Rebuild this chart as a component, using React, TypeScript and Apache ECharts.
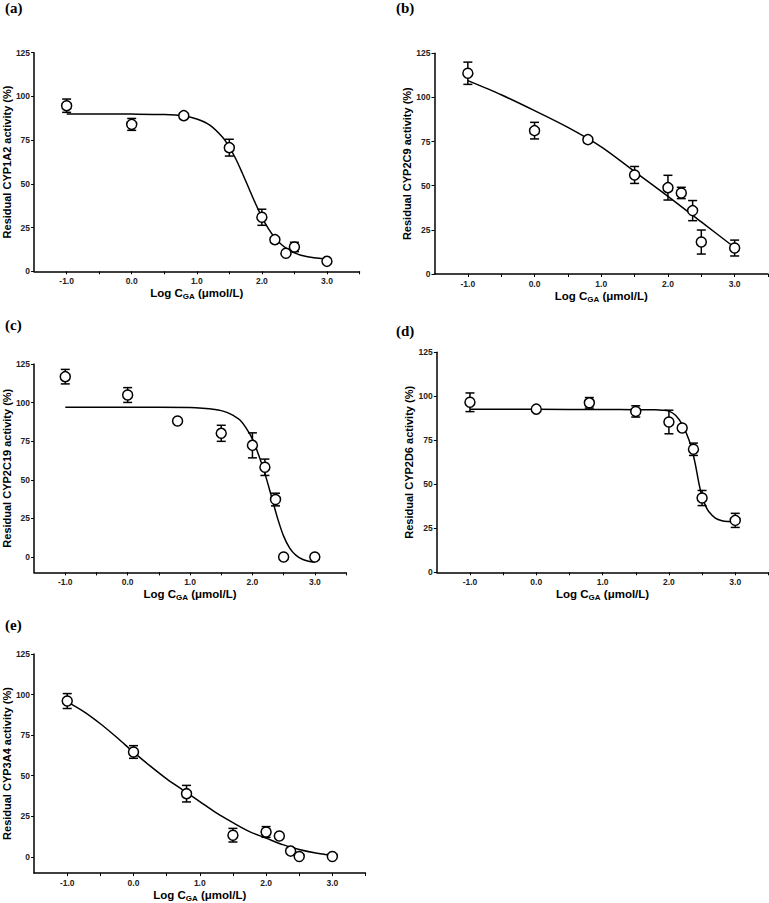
import React, { useEffect, useRef } from "react";
import * as echarts from "echarts";

// Log concentration of GA (µmol/L) at which each activity was measured
const logConc = [-1, 0, 0.8, 1.5, 2, 2.2, 2.37, 2.5, 3];

const panelLetters = ["(a)", "(b)", "(c)", "(d)", "(e)"];
const enzymes = ["CYP1A2", "CYP2C9", "CYP2C19", "CYP2D6", "CYP3A4"];

// Mean residual activity (%) and SD for each enzyme
const cyp1a2Mean = [94.7, 84.0, 89.0, 70.7, 30.9, 18.1, 10.3, 13.9, 5.7];
const cyp1a2Sd = [3.8, 3.4, 0, 4.8, 4.6, 0, 0, 2.7, 0];
const cyp2c9Mean = [113.7, 81.2, 76.1, 56.1, 48.9, 45.9, 35.9, 18.1, 14.7];
const cyp2c9Sd = [6.3, 4.7, 0, 4.8, 7.0, 3.2, 5.7, 6.8, 4.5];
const cyp2c19Mean = [116.8, 104.9, 88.1, 80.1, 72.3, 58.1, 37.2, 0, 0];
const cyp2c19Sd = [4.7, 4.8, 0, 5.2, 8.1, 5.3, 4.1, 0, 0];
const cyp2d6Mean = [96.6, 92.7, 96.3, 91.4, 85.4, 82.0, 69.9, 42.2, 29.5];
const cyp2d6Sd = [5.3, 0, 3.0, 3.2, 6.7, 0, 3.5, 4.3, 4.0];
const cyp3a4Mean = [96.0, 64.6, 38.9, 13.3, 15.3, 12.8, 3.5, 0.2, 0.2];
const cyp3a4Sd = [4.6, 3.9, 5.1, 4.2, 3.3, 0, 0, 0, 0];

// Fitted inhibition curves
const cyp1a2CurveX = [-1, -0.5, 0, 0.5, 0.8, 1, 1.2, 1.4, 1.5, 1.6, 1.7, 1.8, 1.9, 2, 2.1, 2.2, 2.3, 2.4, 2.5, 2.6, 2.8, 3];
const cyp1a2CurveY = [90, 90, 89.9, 89.6, 88.8, 87.1, 83.6, 76.5, 71, 64.2, 56.1, 47.5, 38.9, 31, 24.4, 19.2, 15.3, 12.5, 10.5, 9.2, 7.7, 7.0];
const cyp2c9CurveX = [-1, -0.5, 0, 0.5, 1, 1.5, 2, 2.5, 3];
const cyp2c9CurveY = [109.5, 101.5, 92.5, 83, 72, 58, 44, 29.5, 15];
const cyp2c19CurveX = [-1, 0, 1, 1.2, 1.4, 1.5, 1.6, 1.7, 1.8, 1.9, 2, 2.1, 2.2, 2.3, 2.4, 2.5, 2.6, 2.7, 2.8, 2.9, 3];
const cyp2c19CurveY = [97, 97, 96.8, 96.4, 95.6, 94.8, 93.5, 91.5, 88.7, 83.5, 76.5, 66, 54, 40, 25.5, 13.5, 5.6, 1, -1.5, -2.8, -3.4];
const cyp2d6CurveX = [-1, 0, 1, 1.5, 1.8, 1.9, 2, 2.1, 2.2, 2.3, 2.35, 2.4, 2.45, 2.5, 2.55, 2.6, 2.7, 2.8, 2.9, 3];
const cyp2d6CurveY = [92.6, 92.6, 92.5, 92.4, 92.3, 92.1, 91.6, 89.2, 84, 75.5, 69.5, 61, 51, 43, 38, 34.5, 30.8, 29.3, 28.8, 28.6];
const cyp3a4CurveX = [-1, -0.75, -0.5, -0.25, 0, 0.25, 0.5, 0.75, 1, 1.25, 1.5, 1.75, 2, 2.25, 2.5, 2.75, 3];
const cyp3a4CurveY = [95.5, 89.5, 82, 73.5, 64.5, 56, 48, 41, 34, 27, 21, 15.5, 11.5, 7.5, 4.5, 2.3, 0.8];

// Axis ticks
const xLabelValues = [-1, 0, 1, 2, 3];
const xTickValues = [-1, -0.5, 0, 0.5, 1, 1.5, 2, 2.5, 3, 3.5];
const yTickValues = [0, 25, 50, 75, 100, 125];

const means = [cyp1a2Mean, cyp2c9Mean, cyp2c19Mean, cyp2d6Mean, cyp3a4Mean];
const sds = [cyp1a2Sd, cyp2c9Sd, cyp2c19Sd, cyp2d6Sd, cyp3a4Sd];
const curvesX = [cyp1a2CurveX, cyp2c9CurveX, cyp2c19CurveX, cyp2d6CurveX, cyp3a4CurveX];
const curvesY = [cyp1a2CurveY, cyp2c9CurveY, cyp2c19CurveY, cyp2d6CurveY, cyp3a4CurveY];
const yMins = [0, 0, -10, 0, -10];

// layout (pixels)
const grids = [
  { left: 32.5, top: 52.7, width: 327, height: 218.6 },
  { left: 434.5, top: 53.3, width: 333.5, height: 220.7 },
  { left: 33.5, top: 364, width: 312.5, height: 208.4 },
  { left: 436.8, top: 352.3, width: 331.6, height: 220 },
  { left: 33.5, top: 654, width: 332, height: 221.4 },
];
const letterPos = [
  [5, 8],
  [396, 8],
  [5, 325],
  [396, 331],
  [5, 625],
];

const SANS = "'Liberation Sans', Arial, sans-serif";

export default function App() {
  const ref = useRef<HTMLDivElement>(null);

  useEffect(() => {
    if (!ref.current) return;
    const chart = echarts.init(ref.current, null, { renderer: "svg" });

    const xAxes: any[] = [];
    const yAxes: any[] = [];
    const series: any[] = [];

    for (let i = 0; i < 5; i++) {
      xAxes.push({
        type: "value",
        gridIndex: i,
        min: -1.5,
        max: 3.5,
        axisLine: { onZero: false, lineStyle: { color: "#000", width: 1.5 } },
        axisTick: { customValues: xTickValues, length: 3, lineStyle: { color: "#000", width: 1 } },
        axisLabel: {
          customValues: xLabelValues,
          formatter: (v: number) => v.toFixed(1),
          fontSize: 8.5,
          fontWeight: "bold",
          fontFamily: SANS,
          color: "#222",
          margin: 5,
        },
        splitLine: { show: false },
        name: "{n|Log C}{s|GA}{n| (μmol/L)}",
        nameLocation: "middle",
        nameGap: 15,
        nameTextStyle: {
          rich: {
            n: { fontSize: 11.5, fontWeight: "bold", fontFamily: SANS, color: "#000", lineHeight: 14 },
            s: { fontSize: 8, fontWeight: "bold", fontFamily: SANS, color: "#000", verticalAlign: "bottom", lineHeight: 14 },
          },
        },
      });
      yAxes.push({
        type: "value",
        gridIndex: i,
        min: yMins[i],
        max: 125,
        interval: yMins[i] === 0 ? 25 : undefined,
        axisLine: { onZero: false, lineStyle: { color: "#000", width: 1.5 } },
        axisTick: { customValues: yTickValues, length: 3, lineStyle: { color: "#000", width: 1 } },
        axisLabel: {
          customValues: yTickValues,
          fontSize: 8.5,
          fontWeight: "bold",
          fontFamily: SANS,
          color: "#222",
          margin: 4,
        },
        splitLine: { show: false },
        name: `Residual ${enzymes[i]} activity (%)`,
        nameLocation: "middle",
        nameGap: 21,
        nameTextStyle: { fontSize: 11, fontWeight: "bold", fontFamily: SANS, color: "#000" },
      });

      series.push({
        type: "line",
        xAxisIndex: i,
        yAxisIndex: i,
        data: curvesX[i].map((x, j) => [x, curvesY[i][j]]),
        smooth: 0.3,
        showSymbol: false,
        lineStyle: { color: "#000", width: 1.5 },
        z: 1,
        silent: true,
      });

      const errData = logConc
        .map((x, j) => [x, means[i][j] - sds[i][j], means[i][j] + sds[i][j], sds[i][j]])
        .filter((d) => d[3] > 0);
      series.push({
        type: "custom",
        xAxisIndex: i,
        yAxisIndex: i,
        data: errData,
        encode: { x: 0, y: [1, 2] },
        z: 2,
        silent: true,
        renderItem: (params: any, api: any) => {
          const x = api.value(0);
          const lo = api.value(1);
          const hi = api.value(2);
          const top = api.coord([x, hi]);
          const bot = api.coord([x, lo]);
          const hw = 4.5;
          const style = { stroke: "#000", lineWidth: 1.5, fill: "none" };
          return {
            type: "group",
            children: [
              { type: "line", shape: { x1: top[0], y1: top[1], x2: bot[0], y2: bot[1] }, style },
              { type: "line", shape: { x1: top[0] - hw, y1: top[1], x2: top[0] + hw, y2: top[1] }, style },
              { type: "line", shape: { x1: bot[0] - hw, y1: bot[1], x2: bot[0] + hw, y2: bot[1] }, style },
            ],
          };
        },
      });

      series.push({
        type: "scatter",
        xAxisIndex: i,
        yAxisIndex: i,
        data: logConc.map((x, j) => [x, means[i][j]]),
        symbol: "circle",
        symbolSize: 10,
        itemStyle: { color: "#fff", borderColor: "#000", borderWidth: 1.5, opacity: 1 },
        z: 3,
        silent: true,
      });
    }

    chart.setOption({
      animation: false,
      backgroundColor: "#fff",
      grid: grids.map((g) => ({ ...g, containLabel: false })),
      xAxis: xAxes,
      yAxis: yAxes,
      series,
      graphic: panelLetters.map((t, i) => ({
        type: "text",
        left: letterPos[i][0],
        top: letterPos[i][1] - 8,
        style: {
          text: t,
          fontSize: 15,
          fontWeight: "bold",
          fontFamily: "'Liberation Serif', 'Times New Roman', serif",
          fill: "#000",
        },
      })),
    });

    return () => chart.dispose();
  }, []);

  return (
    <div
      ref={ref}
      style={{ position: "fixed", left: 0, top: 0, width: 769, height: 903, background: "#fff" }}
    />
  );
}
